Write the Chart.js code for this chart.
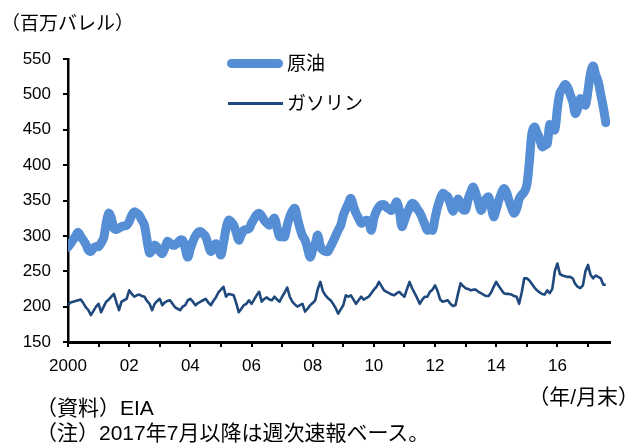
<!DOCTYPE html>
<html>
<head>
<meta charset="utf-8">
<script src="https://cdn.jsdelivr.net/npm/chart.js@4.4.1/dist/chart.umd.min.js"></script>
<style>
  html, body { margin: 0; padding: 0; background: #fff; }
  #wrap { position: relative; width: 637px; height: 445px; overflow: hidden; }
  #wrap canvas { position: absolute; left: 0; top: 0; }
  .txt {
    position: absolute; white-space: nowrap; line-height: 1; color: #000;
    font-family: "Liberation Sans", "Noto Sans CJK JP", sans-serif;
  }
  .swatch { position: absolute; }
</style>
</head>
<body>
<div id="wrap">
  <canvas id="chart" width="637" height="445"></canvas>
  <div class="txt" style="left:1px; top:14px; font-size:19px;">（百万バレル）</div>
  <div class="swatch" style="left:227px; top:58.5px; width:56px; height:9px; border-radius:4.5px; background:#558ed5;"></div>
  <div class="txt" style="left:287px; top:54px; font-size:19px;">原油</div>
  <div class="swatch" style="left:228px; top:102px; width:55px; height:2.5px; background:#1f497d;"></div>
  <div class="txt" style="left:287px; top:94px; font-size:19px;">ガソリン</div>
  <div class="txt" style="right:-2px; top:386px; font-size:21px;">（年/月末）</div>
  <div class="txt" style="left:36px; top:397px; font-size:21px;">（資料）EIA</div>
  <div class="txt" style="left:36px; top:422px; font-size:21px;">（注）2017年7月以降は週次速報ベース。</div>
</div>
<script>
// monthly, Jan 2000 - Aug 2017 (million barrels)
const startYear = 2000;
const crude = [
    284, 289, 294, 300, 305, 299, 294, 288, 280, 278, 283, 285,
    285, 290, 297, 318, 332, 325, 311, 309, 311, 313, 314, 315,
    320, 329, 334, 332, 329, 322, 315, 294, 276, 280, 287, 284,
    278, 275, 283, 292, 290, 287, 287, 290, 294, 294, 282, 270,
    282, 292, 300, 305, 306, 303, 299, 288, 278, 284, 289, 282,
    273, 290, 310, 322, 320, 315, 305, 294, 302, 308, 309, 310,
    318, 324, 330, 332, 328, 322, 318, 315, 320, 325, 312, 299,
    299, 299, 315, 327, 335, 339, 325, 311, 300, 294, 282, 270,
    280, 289, 301, 285, 280, 278, 278, 285, 292, 300, 308, 315,
    329, 338, 346, 353, 342, 332, 325, 318, 320, 322, 320, 308,
    325, 335, 341, 344, 344, 340, 338, 336, 342, 348, 335, 313,
    322, 332, 340, 346, 344, 338, 333, 325, 316, 308, 312, 308,
    325, 341, 352, 360, 358, 355, 345, 335, 343, 352, 345, 337,
    337, 352, 362, 369, 360, 348, 336, 344, 352, 355, 342, 327,
    337, 350, 360, 367, 362, 350, 340, 332, 338, 352, 358, 362,
    372, 405, 445, 454, 446, 438, 426, 428, 430, 457, 452, 450,
    480, 502, 508, 514, 510, 500, 490, 473, 480, 494, 490, 485,
    505, 530, 540, 528, 518, 500, 482, 460
];
const gasoline = [
    202, 206, 207, 208, 209, 210, 205, 199, 195, 188, 194, 200,
    204, 192, 200, 207, 210, 214, 218, 206, 195, 207, 209, 211,
    223, 218, 214, 216, 217, 215, 214, 208, 204, 195, 204, 208,
    211, 202, 206, 208, 209, 204, 199, 197, 195, 200, 202, 209,
    211, 207, 202, 205, 207, 209, 211, 206, 202, 208, 213, 220,
    224, 228, 214, 218, 217, 216, 205, 192, 197, 202, 204, 209,
    204, 210, 216, 221, 207, 211, 213, 210, 209, 214, 210, 207,
    214, 220, 227, 214, 207, 203, 200, 202, 204, 193, 197, 202,
    205, 209, 225, 235, 222, 216, 212, 209, 204, 198, 190, 196,
    202, 216, 214, 216, 210, 204, 209, 214, 210, 212, 214, 219,
    224, 228, 235, 229, 223, 221, 219, 217, 216, 219, 221, 217,
    214, 225, 235, 226, 219, 212, 204, 210, 214, 214, 221, 224,
    230, 222, 210, 207, 208, 209, 204, 201, 202, 218, 233, 229,
    226, 225, 223, 224, 224, 221, 219, 217, 215, 215, 220, 228,
    235, 229, 224, 219, 218, 218, 217, 215, 214, 204, 220, 240,
    240, 237, 232, 227, 223, 220, 218, 217, 223, 219, 225, 250,
    261, 246, 244, 243, 242, 242, 240, 232, 228, 226, 230, 250,
    259, 245, 240, 244, 242, 240, 231, 231
];
const tickYears = [2000, 2002, 2004, 2006, 2008, 2010, 2012, 2014, 2016];
const tickLabels = ["2000", "02", "04", "06", "08", "10", "12", "14", "16"];

const toPoints = (arr) => arr.map((v, i) => ({ x: startYear + i / 12, y: v }));
const font = { family: "'Liberation Sans', Arial, sans-serif", size: 17 };

new Chart(document.getElementById("chart"), {
    type: "line",
    data: {
        datasets: [
            {
                label: "原油",
                data: toPoints(crude),
                borderColor: "#558ed5",
                borderWidth: 9,
                borderCapStyle: "round",
                borderJoinStyle: "round",
                tension: 0.35,
                pointRadius: 0,
                order: 2
            },
            {
                label: "ガソリン",
                data: toPoints(gasoline),
                borderColor: "#1f497d",
                borderWidth: 2.6,
                borderJoinStyle: "round",
                tension: 0,
                pointRadius: 0,
                order: 1
            }
        ]
    },
    options: {
        responsive: false,
        animation: false,
        layout: { padding: { left: 0, top: 59, right: 27, bottom: 63 } },
        plugins: { legend: { display: false }, tooltip: { enabled: false } },
        scales: {
            x: {
                type: "linear",
                min: 2000,
                max: 2017.72,
                afterFit: (s) => { s.height = 40; },
                afterBuildTicks: (s) => {
                    const t = [];
                    for (let y = 2000; y <= 2017; y++) t.push({ value: y });
                    s.ticks = t;
                },
                ticks: {
                    autoSkip: false,
                    maxRotation: 0,
                    padding: 9,
                    color: "#000",
                    font: font,
                    callback: (v) => {
                        const k = tickYears.indexOf(v);
                        return k >= 0 ? tickLabels[k] : "";
                    }
                },
                grid: { drawOnChartArea: false, drawTicks: true, tickLength: 5, color: "#000", lineWidth: 2 },
                border: { display: true, color: "#000", width: 3 }
            },
            y: {
                min: 150,
                max: 550,
                afterFit: (s) => { s.width = 68; },
                ticks: { stepSize: 50, padding: 12, color: "#000", font: font },
                grid: { drawOnChartArea: false, drawTicks: true, tickLength: 5, color: "#000", lineWidth: 2 },
                border: { display: true, color: "#000", width: 2.5 }
            }
        }
    }
});
</script>
</body>
</html>
